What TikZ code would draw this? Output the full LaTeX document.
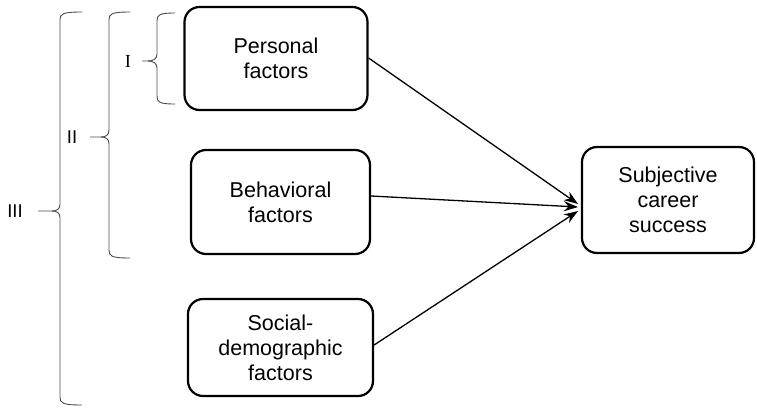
\documentclass[tikz,border=0pt]{standalone}
\usepackage{fontspec}
\setmainfont{Liberation Sans}
\newfontfamily\serifI{Liberation Serif}
\usetikzlibrary{arrows.meta}
\begin{document}
\begin{tikzpicture}[x=1pt,y=-1pt,
  box/.style={draw=black, line width=2.2pt, rounded corners=15pt, align=center,
    font=\fontsize{21.5}{25}\selectfont, inner sep=0pt},
  conn/.style={draw=black, line width=1.3pt, -{Stealth[length=14pt,width=10pt]}},
  bracel/.style={draw=black!70, line width=0.9pt},
  lbl/.style={font=\fontsize{18.5}{20}\selectfont, inner sep=0pt}]
\useasboundingbox (0,0) rectangle (757,407);

\node[box, minimum width=183pt, minimum height=103pt] (pers) at (276,58.5) {Personal\\factors};
\node[box, minimum width=179pt, minimum height=104pt] (beh) at (280.5,202) {Behavioral\\factors};
\node[box, minimum width=185pt, minimum height=97pt] (soc) at (280.5,347.5) {Social-\\demographic\\factors};
\node[box, minimum width=172pt, minimum height=106pt] (subj) at (668,200) {Subjective\\career\\success};

\coordinate (t1) at (578,204);
\coordinate (t2) at (578,207);
\coordinate (t3) at (578,211);
\draw[conn] (pers.east |- 0,58) -- (t1);
\draw[conn] (beh.east |- 0,196) -- (t2);
\draw[conn] (soc.east |- 0,345) -- (t3);

% brace I
\node[lbl, font=\serifI\fontsize{18.5}{20}\selectfont] (lI) at (128,61) {I};
\draw[bracel] (142,61) -- (148,61) .. controls (153,61) and (157,59) .. (157,54) -- (157,21)
  .. controls (157,15) and (159,13) .. (175,13);
\draw[bracel] (148,61) .. controls (153,61) and (157,63) .. (157,68) -- (157,96)
  .. controls (157,102) and (159,104) .. (175,104);

% brace II
\node[lbl] (lII) at (72,137) {II};
\draw[bracel] (90,137) -- (101,137) .. controls (106,137) and (109,135) .. (109,130) -- (109,20)
  .. controls (109,14) and (111,12) .. (130,12);
\draw[bracel] (101,137) .. controls (106,137) and (109,139) .. (109,144) -- (109,250)
  .. controls (109,256) and (111,258) .. (130,258);

% brace III
\node[lbl] (lIII) at (15,211) {III};
\draw[bracel] (38,211) -- (52,211) .. controls (57,211) and (60,209) .. (60,204) -- (60,20)
  .. controls (60,14) and (62,12) .. (82,12);
\draw[bracel] (52,211) .. controls (57,211) and (60,213) .. (60,218) -- (60,397)
  .. controls (60,403) and (62,405) .. (82,405);
\end{tikzpicture}
\end{document}
